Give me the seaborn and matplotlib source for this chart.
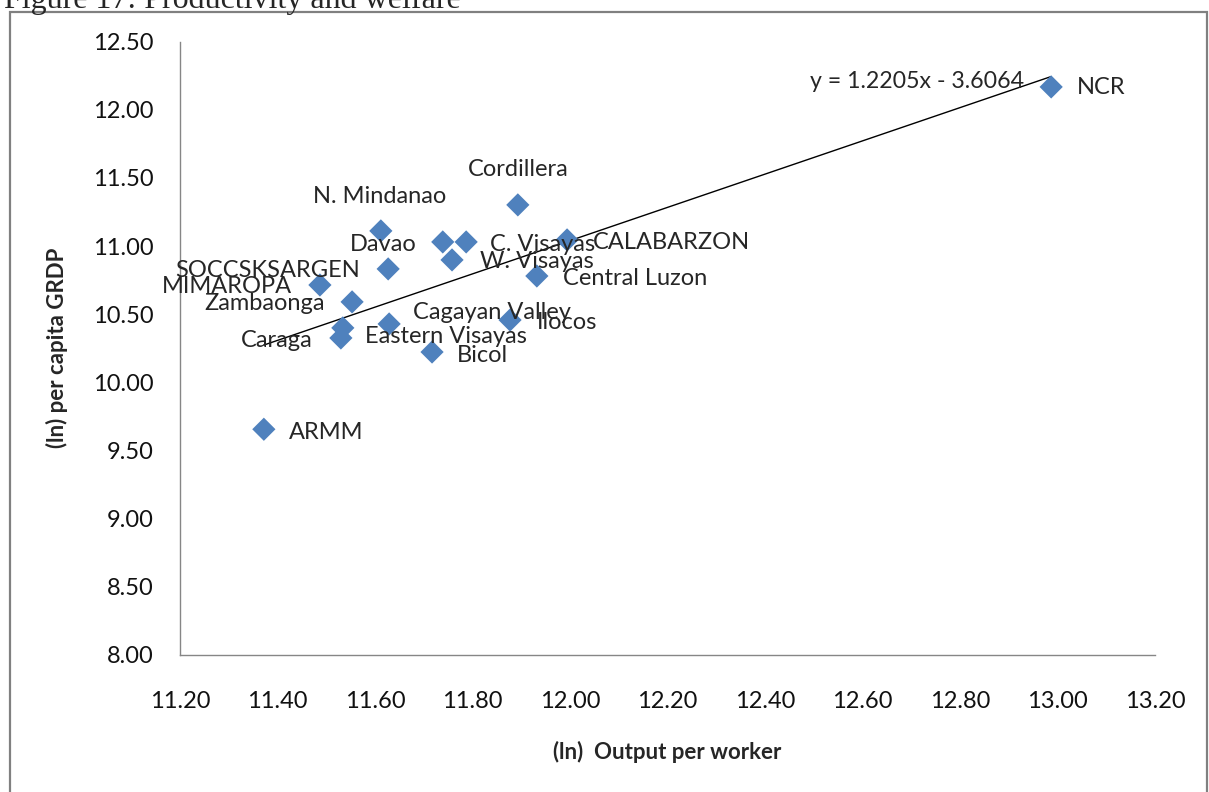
import matplotlib
matplotlib.use('Agg')
import matplotlib.pyplot as plt
import seaborn as sns
import numpy as np
import pandas as pd
from matplotlib.patches import Rectangle

# regions, ln output per worker, ln per capita GRDP
regions = ['NCR', 'Cordillera', 'N. Mindanao', 'Davao', 'C. Visayas', 'CALABARZON',
           'W. Visayas', 'SOCCSKSARGEN', 'Central Luzon', 'MIMAROPA', 'Zambaonga',
           'Eastern Visayas', 'Caraga', 'Cagayan Valley', 'Ilocos', 'Bicol', 'ARMM']
output_per_worker = [12.987, 11.893, 11.612, 11.739, 11.787, 11.994,
                     11.758, 11.627, 11.932, 11.487, 11.553,
                     11.534, 11.530, 11.629, 11.877, 11.717, 11.372]
grdp_per_capita = [12.168, 11.302, 11.111, 11.030, 11.030, 11.045,
                   10.898, 10.832, 10.780, 10.714, 10.590,
                   10.399, 10.325, 10.428, 10.457, 10.222, 9.655]

# trendline shown on the chart
slope = 1.2205
intercept = -3.6064

# label placement, offset in pixels from the point + alignment
label_pos = {
    'NCR': (26, -1, 'left'),
    'Cordillera': (0, 35, 'center'),
    'N. Mindanao': (-1, 34, 'center'),
    'Davao': (-26, -3, 'right'),
    'C. Visayas': (24, -3, 'left'),
    'CALABARZON': (26, -3, 'left'),
    'W. Visayas': (28, -2, 'left'),
    'SOCCSKSARGEN': (-28, -2, 'right'),
    'Central Luzon': (26, -2, 'left'),
    'MIMAROPA': (-28, -2, 'right'),
    'Zambaonga': (-27, -2, 'right'),
    'Eastern Visayas': (22, -9, 'left'),
    'Caraga': (-28, -3, 'right'),
    'Cagayan Valley': (24, 11, 'left'),
    'Ilocos': (27, -2, 'left'),
    'Bicol': (25, -3, 'left'),
    'ARMM': (25, -3, 'left'),
}

df = pd.DataFrame({'region': regions, 'x': output_per_worker, 'y': grdp_per_capita})

sns.set_style('white')
plt.rcParams['font.family'] = ['Lato', 'DejaVu Sans']

fig = plt.figure(figsize=(12.09, 7.92), dpi=100)
ax = fig.add_axes([180 / 1209, 1 - 654.7 / 792, 975 / 1209, 613 / 792])

sns.scatterplot(data=df, x='x', y='y', marker='D', s=140, color='#4F81BD',
                edgecolor='none', ax=ax, zorder=3)

# linear trendline over the data range
xs = np.array([df['x'].min(), df['x'].max()])
ax.plot(xs, slope * xs + intercept, color='black', lw=1, zorder=2)
ax.text(12.931, 12.205, 'y = 1.2205x - 3.6064', ha='right', va='center', fontsize=16.7)

for _, row in df.iterrows():
    dx, dy, ha = label_pos[row['region']]
    ax.annotate(row['region'], (row['x'], row['y']), xytext=(dx, dy),
                textcoords='offset pixels', ha=ha, va='center', fontsize=17)

ax.set_xlim(11.2, 13.2)
ax.set_ylim(8.0, 12.5)
ax.set_xticks(np.arange(11.2, 13.21, 0.2))
ax.set_yticks(np.arange(8.0, 12.51, 0.5))
ax.set_xticklabels([f'{v:.2f}' for v in np.arange(11.2, 13.21, 0.2)])
ax.set_yticklabels([f'{v:.2f}' for v in np.arange(8.0, 12.51, 0.5)])

for side in ['top', 'right']:
    ax.spines[side].set_visible(False)
for side in ['left', 'bottom']:
    ax.spines[side].set_color('#868686')
    ax.spines[side].set_linewidth(1)
ax.tick_params(axis='both', direction='out', length=6, width=1, color='#868686',
               labelsize=17, labelcolor='#111111')
ax.tick_params(axis='x', pad=20)
ax.tick_params(axis='y', pad=13)

ax.set_xlabel('(ln)  Output per worker', fontsize=16, fontweight='bold')
ax.set_ylabel('(ln) per capita GRDP', fontsize=16, fontweight='bold')
ax.xaxis.set_label_coords(0.5, -0.141)
ax.yaxis.set_label_coords(-0.115, 0.5)

# outer chart border and cut-off caption
fig.patches.append(Rectangle((10 / 1209, -0.05), 1197 / 1209, 1 - 12 / 792 + 0.05,
                             transform=fig.transFigure, fill=False,
                             edgecolor='#808080', lw=1.6))
fig.text(0.003, 1 - 8 / 792, 'Figure 17: Productivity and welfare',
         family='Liberation Serif', fontsize=23, va='baseline', ha='left')

fig.savefig('out.png', dpi=100)
